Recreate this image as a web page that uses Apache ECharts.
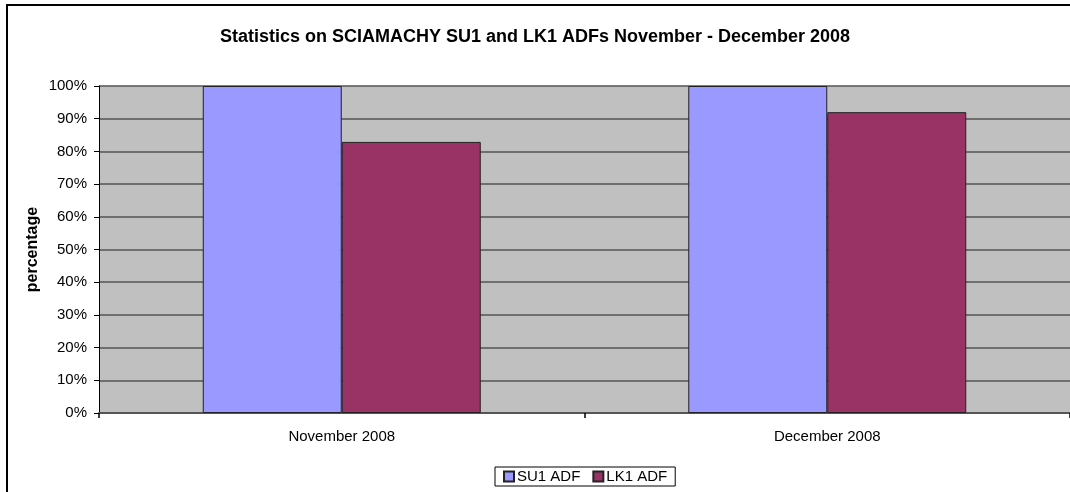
<!DOCTYPE html>
<html>
<head>
<meta charset="utf-8">
<script src="https://cdn.jsdelivr.net/npm/echarts@6/dist/echarts.min.js"></script>
<style>
  html, body { margin: 0; padding: 0; background: #fff; }
  #chart { width: 1070px; height: 492px; }
</style>
</head>
<body>
<div id="chart"></div>
<script>
// data
var months = ['November 2008', 'December 2008'];
var su1Adf = [100, 100];
var lk1Adf = [82.9, 92.0];
var yTicks = [0, 10, 20, 30, 40, 50, 60, 70, 80, 90, 100];

var chart = echarts.init(document.getElementById('chart'));

var option = {
    backgroundColor: '#ffffff',
    animation: false,
    title: {
        text: 'Statistics on SCIAMACHY SU1 and LK1 ADFs November - December 2008',
        left: 'center',
        top: 23,
        textStyle: {
            fontFamily: 'Liberation Sans, Arial, sans-serif',
            fontSize: 18,
            fontWeight: 'bold',
            color: '#000'
        }
    },
    graphic: [
        {
            type: 'rect',
            shape: { x: 7, y: 5, width: 1080, height: 500 },
            style: { fill: 'none', stroke: '#000', lineWidth: 2 },
            silent: true,
            z: 100
        }
    ],
    legend: {
        data: ['SU1 ADF', 'LK1 ADF'],
        left: 495,
        top: 467,
        itemWidth: 10,
        itemHeight: 10,
        itemGap: 12,
        padding: [2, 8],
        borderColor: '#000',
        borderWidth: 1,
        icon: 'rect',
        textStyle: {
            fontFamily: 'Liberation Sans, Arial, sans-serif',
            fontSize: 15,
            color: '#000',
            padding: [0, 0, 0, -2]
        }
    },
    grid: {
        left: 99,
        top: 86,
        right: 0,
        bottom: 79,
        show: true,
        backgroundColor: '#C0C0C0',
        borderWidth: 0
    },
    xAxis: {
        type: 'category',
        data: months,
        axisLine: { lineStyle: { color: '#555', width: 2 } },
        axisTick: { show: true, length: 5, lineStyle: { color: '#000', width: 1.5 } },
        axisLabel: {
            margin: 16,
            fontFamily: 'Liberation Sans, Arial, sans-serif',
            fontSize: 15,
            color: '#000'
        }
    },
    yAxis: {
        type: 'value',
        min: yTicks[0],
        max: yTicks[yTicks.length - 1],
        interval: 10,
        name: 'percentage',
        nameLocation: 'middle',
        nameRotate: 90,
        nameGap: 58,
        nameMoveOverlap: false,
        nameTextStyle: {
            fontFamily: 'Liberation Sans, Arial, sans-serif',
            fontSize: 16,
            fontWeight: 'bold',
            color: '#000'
        },
        axisLine: { show: true, lineStyle: { color: '#000', width: 1 } },
        axisTick: { show: true, length: 5, lineStyle: { color: '#000', width: 1 } },
        axisLabel: {
            margin: 12,
            formatter: '{value}%',
            fontFamily: 'Liberation Sans, Arial, sans-serif',
            fontSize: 15,
            color: '#000'
        },
        splitLine: { show: true, lineStyle: { color: '#555', width: 1.5 } }
    },
    series: [
        {
            name: 'SU1 ADF',
            type: 'bar',
            data: su1Adf,
            barWidth: 139,
            barGap: '0%',
            itemStyle: { color: '#9999FF', borderColor: '#222', borderWidth: 1 }
        },
        {
            name: 'LK1 ADF',
            type: 'bar',
            data: lk1Adf,
            barWidth: 139,
            itemStyle: { color: '#993366', borderColor: '#222', borderWidth: 1 }
        }
    ]
};

chart.setOption(option);
</script>
</body>
</html>
